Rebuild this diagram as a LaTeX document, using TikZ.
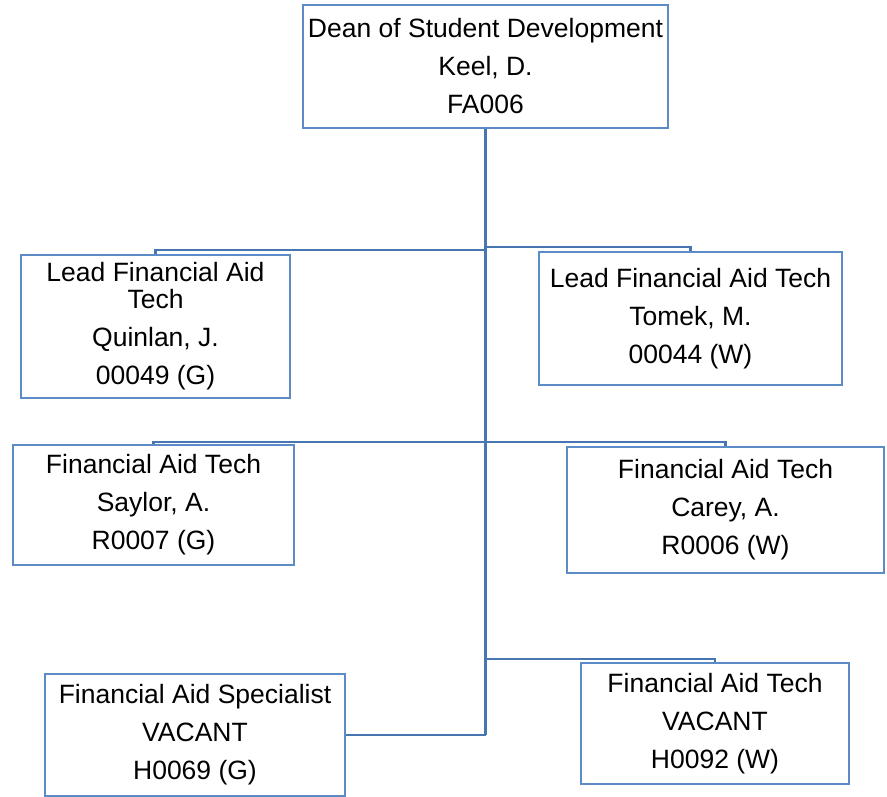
\documentclass[tikz,border=0pt]{standalone}
\usepackage{fontspec}
\setmainfont{Liberation Sans}
\definecolor{boxblue}{HTML}{5B8CC8}
\definecolor{lineblue}{HTML}{4677B2}
\begin{document}
\begin{tikzpicture}[x=1pt,y=-1pt,
  orgbox/.style={draw=boxblue, line width=2.4pt, fill=white, inner sep=0pt, align=center,
    font={\fontsize{26.5pt}{27pt}\selectfont}},
  conn/.style={draw=lineblue, line width=2.6pt}]
\useasboundingbox (0,0) rectangle (887,797);
\coordinate (j1l) at (485.5,250);
\coordinate (j1r) at (485.5,247);
\coordinate (j2) at (485.5,442);
\coordinate (j3) at (485.5,659);
\node[orgbox, minimum width=365pt, minimum height=123pt] (top) at (485.5,66.5)
  {Dean of Student Development\\[11pt]Keel, D.\\[11pt]FA006};
\node[orgbox, minimum width=269pt, minimum height=143pt] (lead1) at (155.5,326.5)
  {Lead Financial Aid\\Tech\\[11pt]Quinlan, J.\\[11pt]00049 (G)};
\node[orgbox, minimum width=303pt, minimum height=133pt] (lead2) at (690.5,318.5)
  {Lead Financial Aid Tech\\[11pt]Tomek, M.\\[11pt]00044 (W)};
\node[orgbox, minimum width=281pt, minimum height=120pt] (fat1) at (153.5,505)
  {Financial Aid Tech\\[11pt]Saylor, A.\\[11pt]R0007 (G)};
\node[orgbox, minimum width=317pt, minimum height=126pt] (fat2) at (725.5,510)
  {Financial Aid Tech\\[11pt]Carey, A.\\[11pt]R0006 (W)};
\node[orgbox, minimum width=300pt, minimum height=122pt] (spec) at (195,735)
  {Financial Aid Specialist\\[11pt]VACANT\\[11pt]H0069 (G)};
\node[orgbox, minimum width=268pt, minimum height=121pt] (fat3) at (715,723.5)
  {Financial Aid Tech\\[11pt]VACANT\\[11pt]H0092 (W)};
\draw[conn] (top.south) -- (top.south |- spec.east);
\draw[conn] (j1l) -| (lead1.north);
\draw[conn] (j1r) -| (lead2.north);
\draw[conn] (j2) -| (fat1.north);
\draw[conn] (j2) -| (fat2.north);
\draw[conn] (j3) -| (fat3.north);
\draw[conn] (spec.east) -- (top.south |- spec.east);
\end{tikzpicture}
\end{document}
